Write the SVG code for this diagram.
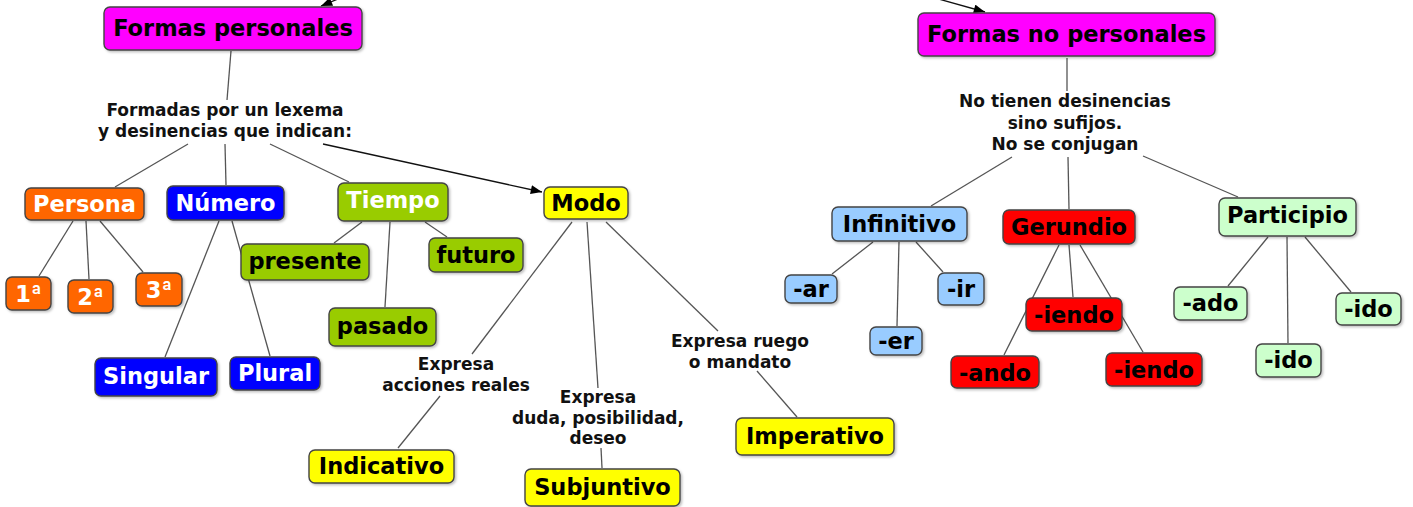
<svg xmlns="http://www.w3.org/2000/svg" width="1413" height="507" viewBox="0 0 1413 507">
<defs>
<marker id="arr" viewBox="0 0 10 8" refX="10" refY="4" markerWidth="12" markerHeight="9" markerUnits="userSpaceOnUse" orient="auto">
<path d="M0,0 L10,4 L0,8 Z" fill="#000"/>
</marker>
<filter id="sh" x="-10%" y="-10%" width="130%" height="140%">
<feDropShadow dx="1.5" dy="1.5" stdDeviation="1" flood-color="#000" flood-opacity="0.25"/>
</filter>
</defs>
<style>
.n rect{stroke:#444;stroke-width:1.4;filter:url(#sh)}
.n text{font-family:"DejaVu Sans",Verdana,sans-serif;font-weight:bold;font-size:22.5px;text-anchor:middle}
.n text tspan.o{font-family:Roboto,"Noto Sans",sans-serif;font-size:24px}
.w{fill:#fff}
.k{fill:#000}
.lbl{font-family:"DejaVu Sans",Verdana,sans-serif;font-weight:bold;font-size:17px;text-anchor:middle;fill:#111}
.c line{stroke:#555;stroke-width:1.3}
.c line.a{stroke:#111;stroke-width:1.3;marker-end:url(#arr)}
.mag{fill:#ff00ff}.org{fill:#ff6600}.blu{fill:#0000ff}.grn{fill:#99cc00}.yel{fill:#ffff00}.lb{fill:#99ccff}.red{fill:#ff0000}.pg{fill:#ccffcc}
</style>
<rect width="1413" height="507" fill="#fff"/>
<g id="connectors" class="c">
<line class="a" x1="350" y1="-6" x2="321" y2="6"/>
<line class="a" x1="935" y1="-2" x2="985" y2="12"/>
<line x1="231" y1="51" x2="227" y2="100"/>
<line x1="188" y1="144" x2="115" y2="187"/>
<line x1="225" y1="144" x2="226" y2="185"/>
<line x1="270" y1="144" x2="349" y2="182"/>
<line class="a" x1="323" y1="144" x2="542" y2="192"/>
<line x1="73" y1="221" x2="39" y2="276"/>
<line x1="86" y1="221" x2="89" y2="279"/>
<line x1="100" y1="221" x2="143" y2="272"/>
<line x1="219" y1="221" x2="165" y2="357"/>
<line x1="232" y1="221" x2="270" y2="356"/>
<line x1="362" y1="222" x2="334" y2="243"/>
<line x1="390" y1="222" x2="385" y2="307"/>
<line x1="425" y1="222" x2="447" y2="237"/>
<line x1="572" y1="222" x2="472" y2="354"/>
<line x1="440" y1="396" x2="398" y2="448"/>
<line x1="587" y1="222" x2="598" y2="388"/>
<line x1="601" y1="448" x2="602" y2="468"/>
<line x1="606" y1="222" x2="718" y2="331"/>
<line x1="757" y1="371" x2="797" y2="417"/>
<line x1="1067" y1="58" x2="1067" y2="91"/>
<line x1="1012" y1="157" x2="931" y2="206"/>
<line x1="1068" y1="157" x2="1069" y2="209"/>
<line x1="1143" y1="156" x2="1238" y2="197"/>
<line x1="873" y1="242" x2="832" y2="274"/>
<line x1="899" y1="242" x2="897" y2="326"/>
<line x1="916" y1="242" x2="943" y2="272"/>
<line x1="1059" y1="245" x2="1004" y2="355"/>
<line x1="1069" y1="245" x2="1073" y2="297"/>
<line x1="1080" y1="245" x2="1143" y2="352"/>
<line x1="1268" y1="237" x2="1228" y2="286"/>
<line x1="1287" y1="237" x2="1288" y2="343"/>
<line x1="1305" y1="237" x2="1351" y2="292"/>
</g>
<g id="labels">
<text class="lbl" x="225" y="116">Formadas por un lexema<tspan x="225" dy="21">y desinencias que indican:</tspan></text>
<text class="lbl" x="456" y="370">Expresa<tspan x="456" dy="21">acciones reales</tspan></text>
<text class="lbl" x="598" y="403">Expresa<tspan x="598" dy="20.5">duda, posibilidad,</tspan><tspan x="598" dy="20.5">deseo</tspan></text>
<text class="lbl" x="740" y="347">Expresa ruego<tspan x="740" dy="20.5">o mandato</tspan></text>
<text class="lbl" x="1065" y="107">No tienen desinencias<tspan x="1065" dy="21.5">sino sufijos.</tspan><tspan x="1065" dy="21.5">No se conjugan</tspan></text>
</g>
<g id="fp" class="n"><rect class="mag" x="104" y="7" width="258" height="43" rx="6"/><text class="k" x="233" y="36">Formas personales</text></g>
<g id="fnp" class="n"><rect class="mag" x="918" y="13" width="297" height="43" rx="6"/><text class="k" x="1066.5" y="42">Formas no personales</text></g>
<g id="persona" class="n"><rect class="org" x="25" y="188" width="119" height="32" rx="6"/><text class="w" x="84.5" y="212">Persona</text></g>
<g id="numero" class="n"><rect class="blu" x="167" y="186" width="117" height="34" rx="6"/><text class="w" x="225.5" y="211">Número</text></g>
<g id="tiempo" class="n"><rect class="grn" x="338" y="183" width="110" height="38" rx="6"/><text class="w" x="393" y="208">Tiempo</text></g>
<g id="modo" class="n"><rect class="yel" x="544" y="187" width="84" height="32" rx="6"/><text class="k" x="586" y="211">Modo</text></g>
<g id="p1" class="n"><rect class="org" x="6" y="277" width="45" height="33" rx="6"/><text class="w" x="28.5" y="302">1<tspan class="o">ª</tspan></text></g>
<g id="p2" class="n"><rect class="org" x="68" y="280" width="45" height="33" rx="6"/><text class="w" x="90.5" y="305">2<tspan class="o">ª</tspan></text></g>
<g id="p3" class="n"><rect class="org" x="136" y="273" width="46" height="33" rx="6"/><text class="w" x="159" y="298">3<tspan class="o">ª</tspan></text></g>
<g id="singular" class="n"><rect class="blu" x="95" y="358" width="122" height="38" rx="6"/><text class="w" x="156" y="384">Singular</text></g>
<g id="plural" class="n"><rect class="blu" x="230" y="357" width="90" height="33" rx="6"/><text class="w" x="275" y="381">Plural</text></g>
<g id="presente" class="n"><rect class="grn" x="241" y="244" width="128" height="36" rx="6"/><text class="k" x="305" y="269">presente</text></g>
<g id="futuro" class="n"><rect class="grn" x="429" y="238" width="94" height="34" rx="6"/><text class="k" x="476" y="263">futuro</text></g>
<g id="pasado" class="n"><rect class="grn" x="329" y="308" width="107" height="38" rx="6"/><text class="k" x="382.5" y="334">pasado</text></g>
<g id="indicativo" class="n"><rect class="yel" x="309" y="450" width="145" height="33" rx="6"/><text class="k" x="381.5" y="474">Indicativo</text></g>
<g id="subjuntivo" class="n"><rect class="yel" x="525" y="469" width="155" height="37" rx="6"/><text class="k" x="602.5" y="495">Subjuntivo</text></g>
<g id="imperativo" class="n"><rect class="yel" x="736" y="418" width="158" height="37" rx="6"/><text class="k" x="815" y="444">Imperativo</text></g>
<g id="infinitivo" class="n"><rect class="lb" x="832" y="207" width="135" height="34" rx="6"/><text class="k" x="899.5" y="232">Infinitivo</text></g>
<g id="gerundio" class="n"><rect class="red" x="1003" y="210" width="132" height="34" rx="6"/><text class="k" x="1069" y="235">Gerundio</text></g>
<g id="participio" class="n"><rect class="pg" x="1219" y="198" width="137" height="38" rx="6"/><text class="k" x="1287.5" y="223">Participio</text></g>
<g id="ar" class="n"><rect class="lb" x="785" y="275" width="52" height="28" rx="6"/><text class="k" x="811" y="297">-ar</text></g>
<g id="ir" class="n"><rect class="lb" x="938" y="273" width="46" height="32" rx="6"/><text class="k" x="961" y="297">-ir</text></g>
<g id="er" class="n"><rect class="lb" x="870" y="327" width="52" height="28" rx="6"/><text class="k" x="896" y="349">-er</text></g>
<g id="iendo1" class="n"><rect class="red" x="1026" y="298" width="96" height="33" rx="6"/><text class="k" x="1074" y="323">-iendo</text></g>
<g id="ando" class="n"><rect class="red" x="951" y="356" width="88" height="32" rx="6"/><text class="k" x="995" y="381">-ando</text></g>
<g id="iendo2" class="n"><rect class="red" x="1106" y="353" width="96" height="33" rx="6"/><text class="k" x="1154" y="378">-iendo</text></g>
<g id="ado" class="n"><rect class="pg" x="1174" y="287" width="73" height="33" rx="6"/><text class="k" x="1210.5" y="311">-ado</text></g>
<g id="ido1" class="n"><rect class="pg" x="1336" y="293" width="65" height="32" rx="6"/><text class="k" x="1368.5" y="317">-ido</text></g>
<g id="ido2" class="n"><rect class="pg" x="1256" y="344" width="65" height="33" rx="6"/><text class="k" x="1288.5" y="368">-ido</text></g>
</svg>
